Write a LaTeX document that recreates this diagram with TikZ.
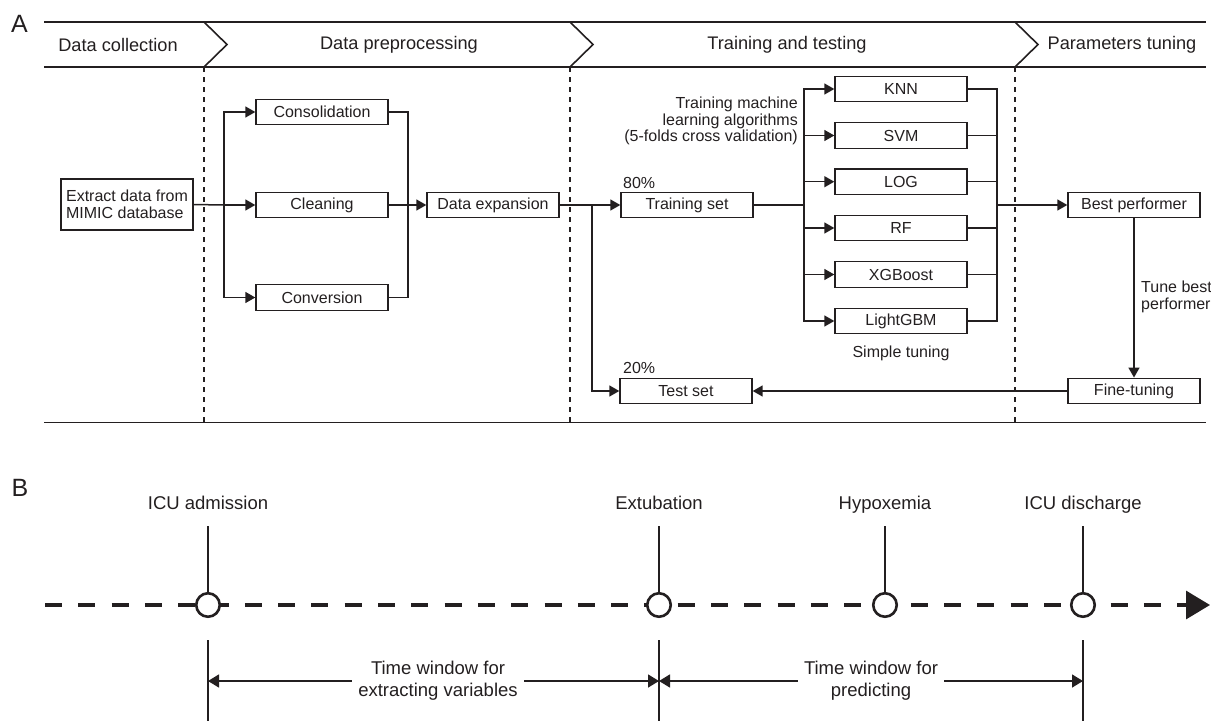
\documentclass[tikz,border=0pt]{standalone}
\usepackage{fontspec}
\setmainfont{Liberation Sans}
\usetikzlibrary{arrows.meta,shapes.geometric}
\definecolor{ink}{HTML}{231F20}
\tikzset{
  box/.style={draw=ink, line width=1.4pt, minimum width=132pt, minimum height=25.5pt, inner sep=0pt, font=\fontsize{16}{16.6}\selectfont, text=ink},
  conn/.style={draw=ink, line width=1.5pt},
  arr/.style={conn, -{Triangle[length=10pt,width=11pt]}},
  hdr/.style={font=\fontsize{18.2}{20}\selectfont, text=ink, inner sep=0pt},
  lbl/.style={font=\fontsize{16}{16.3}\selectfont, text=ink, inner sep=0pt},
  sep/.style={draw=ink, line width=1.3pt, dash pattern=on 5pt off 5pt},
  frame/.style={draw=ink, line width=1.6pt},
  panel/.style={font=\fontsize{25}{28}\selectfont, text=ink, inner sep=0pt},
  evt/.style={circle, draw=ink, fill=white, line width=2.6pt, minimum size=23.5pt, inner sep=0pt},
  stem/.style={draw=ink, line width=2.4pt},
  tick/.style={draw=ink, line width=1.5pt},
  warr/.style={draw=ink, line width=1.5pt, {Triangle[length=11pt,width=13pt]}-{Triangle[length=11pt,width=13pt]}},
  wlbl/.style={fill=white, inner xsep=6pt, inner ysep=1pt, align=center, font=\fontsize{18.5}{22}\selectfont, text=ink},
  elbl/.style={font=\fontsize{18.5}{21}\selectfont, text=ink, inner sep=0pt, anchor=base},
}
\begin{document}
\begin{tikzpicture}[x=1pt, y=-1pt]
\useasboundingbox (0,0) rectangle (1211,721);
% ---------- Panel A ----------
\node[panel] (pa) at (19.5,24) {A};
\draw[frame] (44,22) -- (1206,22);
\draw[frame] (44,67) -- (1206,67);
\draw[frame] (204,22) -- (227,44.5) -- (204,67);
\draw[frame] (570,22) -- (593,44.5) -- (570,67);
\draw[frame] (1015,22) -- (1038,44.5) -- (1015,67);
\node[hdr] (h1) at (118,44.5) {Data collection};
\node[hdr] (h2) at (399,44.5) {Data preprocessing};
\node[hdr] (h3) at (787,44.5) {Training and testing};
\node[hdr] (h4) at (1122,44.5) {Parameters tuning};
\draw[sep] (204,67) -- (204,423);
\draw[sep] (570,67) -- (570,423);
\draw[sep] (1015,67) -- (1015,423);
\draw[frame] (44,422.5) -- (1206,422.5);

\node[box, minimum height=51pt, align=left] (ext) at (127,204.5) {Extract data from\\MIMIC database};
\node[box] (cons) at (322,112) {Consolidation};
\node[box] (clean) at (322,205) {Cleaning};
\node[box] (conv) at (322,297.5) {Conversion};
\node[box] (exp) at (493,205) {Data expansion};
\node[box] (train) at (687,205) {Training set};
\node[box] (test) at (686,391) {Test set};
\node[box] (knn) at (901,89) {KNN};
\node[box] (svm) at (901,135.5) {SVM};
\node[box] (log) at (901,181.7) {LOG};
\node[box] (rf) at (901,228) {RF};
\node[box] (xgb) at (901,274.5) {XGBoost};
\node[box] (lgbm) at (901,321) {LightGBM};
\node[box] (best) at (1134,205) {Best performer};
\node[box] (fine) at (1134,391) {Fine-tuning};

\coordinate (b1) at (224,205);
\coordinate (m1) at (408,205);
\coordinate (b2) at (592,205);
\coordinate (b3) at (804,205);
\coordinate (m2) at (997,205);

\draw[conn] (ext.east) -- (b1);
\draw[arr] (b1) |- (cons.west);
\draw[arr] (b1) -- (clean.west);
\draw[arr] (b1) |- (conv.west);
\draw[conn] (cons.east) -| (m1);
\draw[conn] (conv.east) -| (m1);
\draw[arr] (clean.east) -- (exp.west);
\draw[arr] (exp.east) -- (train.west);
\draw[arr] (b2) |- (test.west);
\draw[conn] (train.east) -- (b3);
\foreach \a in {knn,svm,log,rf,xgb,lgbm}{
  \draw[arr] (b3) |- (\a.west);
  \draw[conn] (\a.east) -| (m2);
}
\draw[arr] (m2) -- (best.west);
\draw[arr] (best.south) -- (fine.north);
\draw[arr] (fine.west) -- (test.east);

\node[lbl, anchor=base west] (p80) at (623,188) {80\%};
\node[lbl, anchor=base west] (p20) at (623,373) {20\%};
\node[lbl, anchor=east, align=right] (tml) at (798,121) {Training machine\\learning algorithms\\(5-folds cross validation)};
\node[lbl] (st) at (901,353) {Simple tuning};
\node[lbl, anchor=west, align=left] (tb) at (1141,297) {Tune best\\performer};

% ---------- Panel B ----------
\node[panel] (pb) at (20,488) {B};
\coordinate (tl0) at (45,605);
\coordinate (tl1) at (1210,605);
\draw[draw=ink, line width=3.2pt, dash pattern=on 17pt off 16.3pt, -{Triangle[length=24pt,width=28pt]}] (tl0) -- (tl1);

\foreach \n/\x/\t in {1/208/ICU admission, 2/659/Extubation, 3/885/Hypoxemia, 4/1083/ICU discharge}{
  \node[evt] (e\n) at (\x,605) {};
  \node[elbl] (l\n) at (\x,509) {\t};
  \coordinate (s\n) at (\x,526);
  \draw[stem] (s\n) -- (e\n.north);
}
\foreach \n/\x in {1/208, 2/659, 4/1083}{
  \coordinate (ta\n) at (\x,640);
  \coordinate (tb\n) at (\x,721);
  \draw[tick] (ta\n) -- (tb\n);
  \coordinate (w\n) at (\x,681);
}
\draw[warr] (w1) -- node[wlbl, pos=0.51] (wl1) {Time window for\\extracting variables} (w2);
\draw[warr] (w2) -- node[wlbl, pos=0.5] (wl2) {Time window for\\predicting} (w4);
\end{tikzpicture}
\end{document}
